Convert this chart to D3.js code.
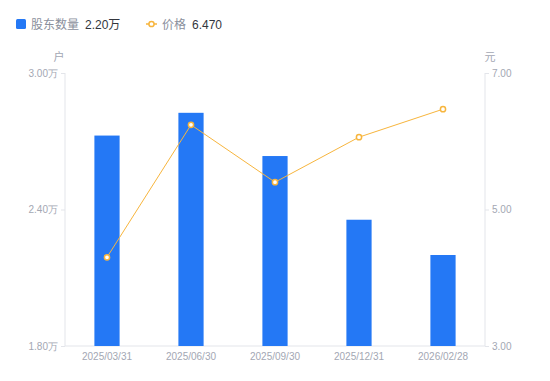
<!DOCTYPE html>
<html><head><meta charset="utf-8">
<script src="https://cdn.jsdelivr.net/npm/d3@7"></script>
<style>
html,body{margin:0;padding:0;background:#fff;}
svg{font-family:"Liberation Sans","Noto Sans CJK SC",sans-serif;}
</style></head>
<body><svg id="c" width="550" height="381"></svg>
<script>
const categories = ["2025/03/31","2025/06/30","2025/09/30","2025/12/31","2026/02/28"];
const holders = [2.725, 2.825, 2.635, 2.355, 2.20]; // 万户
const prices = [4.30, 6.24, 5.40, 6.06, 6.47];
const leftTicks = [1.80, 2.40, 3.00];
const rightTicks = [3.00, 5.00, 7.00];

const svg = d3.select("#c");
const L = 65, R = 485, T = 73, B = 346;
const x = d3.scaleBand().domain(categories).range([L, R]).padding(0);
const yL = d3.scaleLinear().domain([1.8, 3.0]).range([B, T]);
const yR = d3.scaleLinear().domain([3, 7]).range([B, T]);
const axisColor = "#e3e5ea", labelColor = "#a3a7b3";

// axes
const gl = svg.append("g").attr("transform", `translate(${L},0)`)
  .call(d3.axisLeft(yL).tickValues(leftTicks).tickSize(4).tickPadding(3).tickFormat(d => d3.format(".2f")(d) + "万"));
const gr = svg.append("g").attr("transform", `translate(${R},0)`)
  .call(d3.axisRight(yR).tickValues(rightTicks).tickSize(4).tickPadding(3).tickFormat(d3.format(".2f")));
const gb = svg.append("g").attr("transform", `translate(0,${B})`)
  .call(d3.axisBottom(x).tickSize(0).tickPadding(7));
[gl, gr, gb].forEach(g => {
  g.selectAll(".domain").attr("stroke", axisColor).attr("stroke-width", 1);
  g.selectAll(".tick line").attr("stroke", axisColor);
  g.selectAll("text").attr("fill", labelColor).attr("font-size", 10);
});
gl.select(".domain").attr("d", `M0,${T}V${B}`);
gr.select(".domain").attr("d", `M0,${T}V${B}`);
gb.select(".domain").attr("d", `M${L},0H${R}`);

svg.append("text").attr("x", 59).attr("y", 61).attr("text-anchor", "middle")
  .attr("fill", labelColor).attr("font-size", 11).text("户");
svg.append("text").attr("x", 490).attr("y", 61).attr("text-anchor", "middle")
  .attr("fill", labelColor).attr("font-size", 11).text("元");

// bars
const bw = x.bandwidth() * 0.3;
svg.append("g").selectAll("rect").data(categories).join("rect")
  .attr("x", d => x(d) + x.bandwidth() / 2 - bw / 2)
  .attr("y", (d, i) => yL(holders[i]))
  .attr("width", bw)
  .attr("height", (d, i) => B - yL(holders[i]))
  .attr("fill", "#2478f5");

// line
const line = d3.line().x((d, i) => x(categories[i]) + x.bandwidth() / 2).y(d => yR(d));
svg.append("path").datum(prices).attr("d", line)
  .attr("fill", "none").attr("stroke", "#f7b53d").attr("stroke-width", 1);
svg.append("g").selectAll("circle").data(prices).join("circle")
  .attr("cx", (d, i) => x(categories[i]) + x.bandwidth() / 2)
  .attr("cy", d => yR(d)).attr("r", 2.6)
  .attr("fill", "#fff").attr("stroke", "#f7b53d").attr("stroke-width", 1.5);

// legend
const lg = svg.append("g").attr("font-size", 12);
lg.append("rect").attr("x", 16).attr("y", 19).attr("width", 10).attr("height", 10).attr("rx", 1.5).attr("fill", "#2478f5");
lg.append("text").attr("x", 31).attr("y", 28.5).attr("fill", "#8a8f9c").text("股东数量");
lg.append("text").attr("x", 85).attr("y", 28.5).attr("fill", "#33363d").text(d3.format(".2f")(holders[holders.length - 1]) + "万");
lg.append("line").attr("x1", 146).attr("x2", 157).attr("y1", 24).attr("y2", 24).attr("stroke", "#f7b53d").attr("stroke-width", 1.5);
lg.append("circle").attr("cx", 151.5).attr("cy", 24).attr("r", 2.6).attr("fill", "#fff").attr("stroke", "#f7b53d").attr("stroke-width", 1.5);
lg.append("text").attr("x", 162).attr("y", 28.5).attr("fill", "#8a8f9c").text("价格");
lg.append("text").attr("x", 192).attr("y", 28.5).attr("fill", "#33363d").text(d3.format(".3f")(prices[prices.length - 1]));
</script></body></html>
